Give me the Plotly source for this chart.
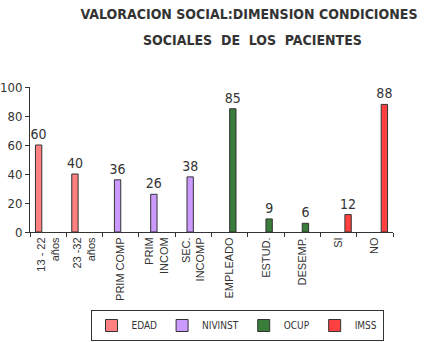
import plotly.graph_objects as go

categories = ["13 - 22<br>años", "23 -32<br>años", "PRIM COMP", "PRIM<br>INCOM", "SEC.<br>INCOMP",
              "EMPLEADO", "ESTUD.", "DESEMP.", "SI", "NO"]
edad = [60, 40, None, None, None, None, None, None, None, None]
nivinst = [None, None, 36, 26, 38, None, None, None, None, None]
ocup = [None, None, None, None, None, 85, 9, 6, None, None]
imss = [None, None, None, None, None, None, None, None, 12, 88]

series = [("EDAD", edad, "#FF8080"), ("NIVINST", nivinst, "#CC99FF"),
          ("OCUP", ocup, "#3A7D3A"), ("IMSS", imss, "#FF4040")]

TITLE_1 = "VALORACION SOCIAL:DIMENSION CONDICIONES"
TITLE_2 = "SOCIALES  DE  LOS  PACIENTES"

COND = "DejaVu Sans Condensed, Liberation Sans Narrow, Arial, sans-serif"
FONT = "Liberation Sans, Arial, sans-serif"

fig = go.Figure()
for name, vals, col in series:
    fig.add_trace(go.Bar(
        x=categories, y=vals, name=name,
        marker=dict(color=col, line=dict(color="#333333", width=1)),
        text=[("" if v is None else str(v)) for v in vals],
        textposition="outside", cliponaxis=False, constraintext="none",
        textfont=dict(family=COND, size=14, color="#333333"),
    ))

fig.update_layout(
    width=435, height=342,
    margin=dict(l=30, r=42, t=87, b=110, autoexpand=False),
    paper_bgcolor="white", plot_bgcolor="white",
    barmode="group", bargap=0.3, bargroupgap=0,
    title=dict(text="<b>" + TITLE_1 + "</b>",
               x=249 / 435, xanchor="center", y=1 - 14 / 342, yanchor="middle",
               font=dict(family=COND, size=14, color="#333333")),
    annotations=[dict(text="<b>" + TITLE_2 + "</b>", xref="paper", yref="paper",
                      x=(252 - 30) / 363, y=1 + (87 - 40) / 145, xanchor="center", yanchor="middle",
                      showarrow=False, font=dict(family=COND, size=14, color="#333333"))],
    showlegend=True,
    legend=dict(orientation="h", x=(237 - 30) / 363, xanchor="center", y=-(310 - 232) / 145, yanchor="top",
                bordercolor="#333333", borderwidth=1,
                font=dict(family=COND, size=10, color="#333333"),
                itemwidth=30, tracegroupgap=0),
    font=dict(family=FONT, color="#333333"),
)
fig.update_xaxes(showline=True, linecolor="#333333", linewidth=1, automargin=False,
                 ticks="outside", ticklen=4, tickcolor="#333333", tickson="boundaries",
                 tickangle=-90, tickfont=dict(family=FONT, size=11, color="#333333"),
                 showgrid=False)
fig.update_yaxes(range=[0, 100], dtick=20, showline=True, linecolor="#333333", linewidth=1,
                 automargin=False,
                 ticks="outside", ticklen=4, tickcolor="#333333",
                 tickfont=dict(family=COND, size=13, color="#333333"),
                 showgrid=False, zeroline=False)

fig.write_html("out.html")
